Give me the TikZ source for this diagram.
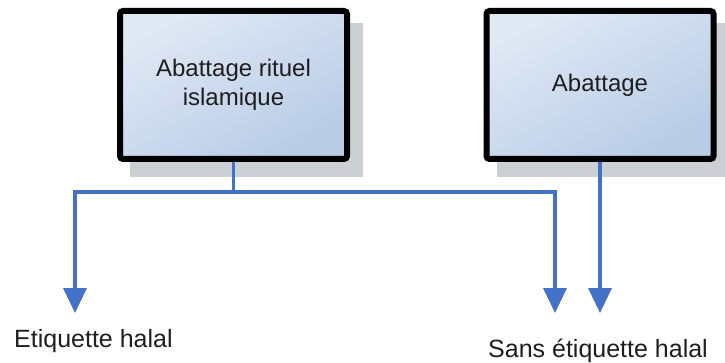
\documentclass[tikz,border=0pt]{standalone}
\usepackage{fontspec}
\setmainfont{Liberation Sans}
\usetikzlibrary{arrows.meta}
\definecolor{linkblue}{RGB}{68,114,200}
\definecolor{boxlight}{RGB}{224,232,244}
\definecolor{boxdark}{RGB}{184,204,230}
\definecolor{shadowgray}{RGB}{204,208,212}
\definecolor{txt}{RGB}{30,30,30}
\begin{document}
\begin{tikzpicture}[x=1pt,y=-1pt,
  boxnode/.style={draw=black, line width=6pt, rounded corners=3pt,
    top color=boxlight, bottom color=boxdark, shading angle=30,
    minimum width=227pt, minimum height=148pt, inner sep=0pt,
    align=center, text=txt, font=\fontsize{24}{29}\selectfont},
  shadowbox/.style={fill=shadowgray},
  link/.style={draw=linkblue, line width=3.5pt},
  linkarrow/.style={link, -{Triangle[length=25pt,width=23pt]}},
  lbl/.style={text=txt, font=\fontsize{25}{30}\selectfont, inner sep=0pt}]
\useasboundingbox (0,0) rectangle (725,363);
% shadows
\fill[shadowbox] (130,23) rectangle (363,177);
\fill[shadowbox] (497,23) rectangle (730,177);
% boxes
\node[boxnode] (rituel) at (233.5,85) {Abattage rituel\\islamique};
\node[boxnode] (abattage) at (600,85) {Abattage};
% branch coordinates
\coordinate (split) at (233.5,192);
\coordinate (leftturn) at (75,192);
\coordinate (rightturn) at (555,192);
\coordinate (lefttip) at (75,313);
\coordinate (righttip) at (555,313);
\coordinate (abtip) at (rituel.south -| abattage.south);
\coordinate (abend) at (600,313);
% labels
\node[lbl, anchor=base west] (etiq) at (14,347) {Etiquette halal};
\node[lbl, anchor=base west] (sans) at (488,357) {Sans étiquette halal};
% connectors
\draw[link] (rituel.south) -- (split);
\draw[linkarrow] (split) -- (leftturn) -- (lefttip);
\draw[linkarrow] (split) -- (rightturn) -- (righttip);
\draw[linkarrow] (abattage.south) -- (abend);
\end{tikzpicture}
\end{document}
